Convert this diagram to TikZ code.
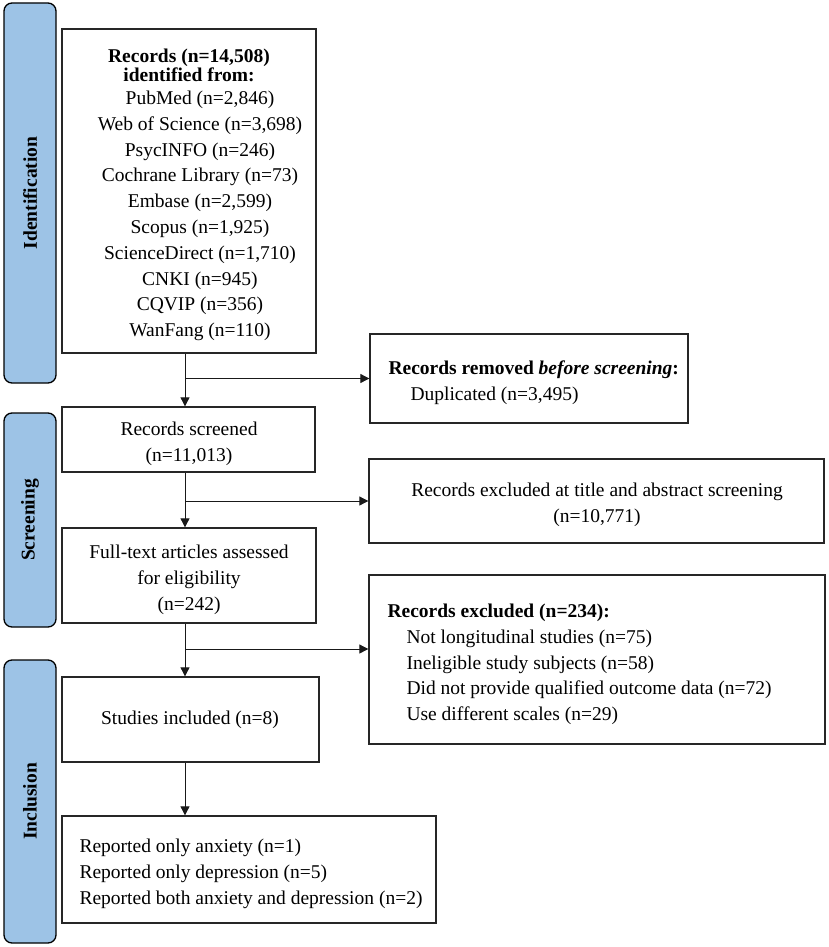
\documentclass[tikz,border=0pt]{standalone}
\usepackage{fontspec}
\setmainfont{Liberation Serif}
\usetikzlibrary{arrows.meta}
\definecolor{phaseblue}{HTML}{9DC3E6}

\tikzset{
  box/.style={draw=black!85,line width=1.3pt,inner sep=0pt},
  phase/.style={draw=black,line width=1.3pt,fill=phaseblue,rounded corners=8pt,
    rotate=90,minimum height=52pt,inner sep=0pt,font=\fontsize{19.5}{22}\selectfont\bfseries},
  arr/.style={draw=black!90,line width=0.8pt,-{Triangle[length=9pt,width=9pt]}},
}

\begin{document}
\begin{tikzpicture}[x=1pt,y=-1pt,font=\fontsize{19.5}{25.8}\selectfont]
  \useasboundingbox (0,0) rectangle (829,947);

  % phase bars
  \node[phase,minimum width=380pt] (ident) at (30,193) {Identification};
  \node[phase,minimum width=214pt] (screen) at (30,520) {Screening};
  \node[phase,minimum width=283pt] (incl) at (30,801.5) {Inclusion};

  % boxes
  \node[box,minimum width=254pt,minimum height=324pt] (rec) at (189,191) {};
  \node[box,minimum width=318pt,minimum height=89pt] (rem) at (529,378.5) {};
  \node[box,minimum width=253pt,minimum height=65pt] (scr) at (188.5,439.5) {};
  \node[box,minimum width=455pt,minimum height=84pt] (exc) at (596.5,501) {};
  \node[box,minimum width=254pt,minimum height=95pt] (ful) at (189,575.5) {};
  \node[box,minimum width=456pt,minimum height=169pt] (rex) at (597,659.5) {};
  \node[box,minimum width=257pt,minimum height=85pt] (stu) at (190.5,719.5) {};
  \node[box,minimum width=374pt,minimum height=107pt] (fin) at (249,869.5) {};

  % texts
  \node[align=center,font=\fontsize{19.5}{16}\selectfont\bfseries] (rechead) at (189,65)
    {Records (n=14,508)\\identified from:};
  \node[align=center] (reclist) at (200,216)
    {PubMed (n=2,846)\\Web of Science (n=3,698)\\PsycINFO (n=246)\\Cochrane Library (n=73)\\
     Embase (n=2,599)\\Scopus (n=1,925)\\ScienceDirect (n=1,710)\\CNKI (n=945)\\
     CQVIP (n=356)\\WanFang (n=110)};
  \node[anchor=west,align=left] (remtext) at (385,383)
    {\textbf{Records removed \textit{before screening}:}\\\hspace*{22pt}Duplicated (n=3,495)};
  \node[align=center] (scrtext) at (189,444) {Records screened\\(n=11,013)};
  \node[align=center] (exctext) at (597,505)
    {Records excluded at title and abstract screening\\(n=10,771)};
  \node[align=center] (fultext) at (189,580)
    {Full-text articles assessed\\for eligibility\\(n=242)};
  \node[anchor=west,align=left] (rextext) at (384,664.5)
    {\textbf{Records excluded (n=234):}\\
     \hspace*{19pt}Not longitudinal studies (n=75)\\
     \hspace*{19pt}Ineligible study subjects (n=58)\\
     \hspace*{19pt}Did not provide qualified outcome data (n=72)\\
     \hspace*{19pt}Use different scales (n=29)};
  \node (stutext) at (190,720) {Studies included (n=8)};
  \node[anchor=west,align=left] (fintext) at (76,874)
    {Reported only anxiety (n=1)\\Reported only depression (n=5)\\
     Reported both anxiety and depression (n=2)};

  % connectors
  \coordinate (spine) at (185,0);
  \coordinate (fork3) at (185,649);
  \draw[arr] (rec.south -| spine) -- (scr.north -| spine);
  \draw[arr] (spine |- rem.west) -- (rem.west);
  \draw[arr] (scr.south -| spine) -- (ful.north -| spine);
  \draw[arr] (spine |- exc.west) -- (exc.west);
  \draw[arr] (ful.south -| spine) -- (stu.north -| spine);
  \draw[arr] (fork3) -- (fork3 -| rex.west);
  \draw[arr] (stu.south -| spine) -- (fin.north -| spine);
\end{tikzpicture}
\end{document}
